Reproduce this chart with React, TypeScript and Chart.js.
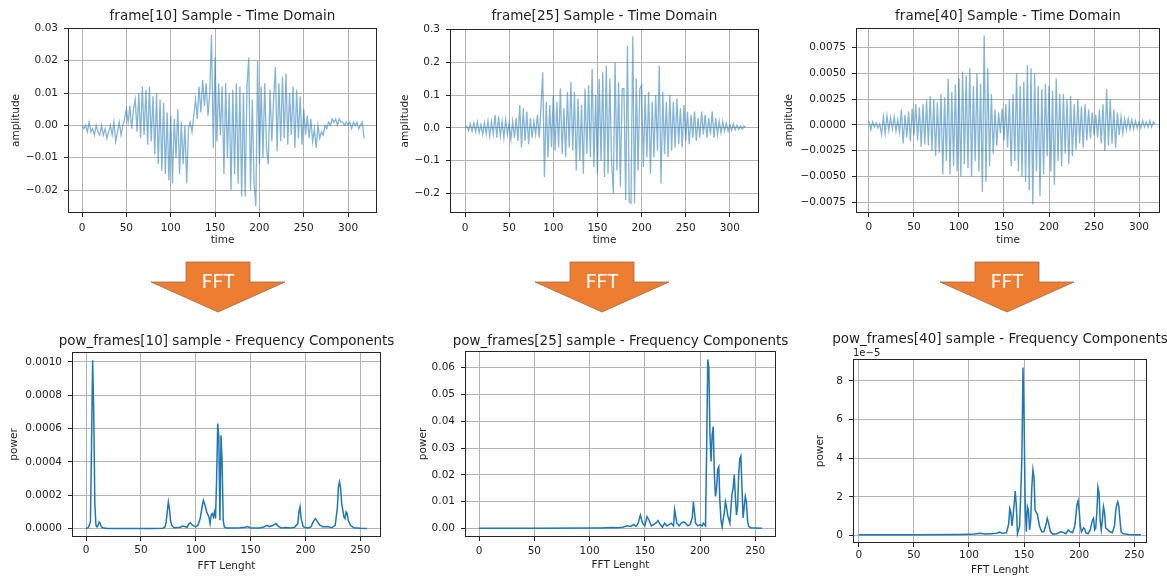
import React, { useEffect, useRef } from "react";
import { Chart, registerables } from "chart.js";

Chart.register(...registerables);

// ---------------- data ----------------
// sample index of the time-domain frames (every 2nd sample shown)
const sampleIndex: number[] = Array.from({ length: 160 }, (_, i) => i * 2);

const frame10: number[] = [
  0.000, -0.001, 0.000, -0.002, 0.001, -0.002, -0.001, -0.003, 0.000, -0.002,
  -0.003, 0.000, -0.003, -0.001, -0.004, -0.002, 0.000, -0.003, 0.001, -0.005,
  -0.002, 0.001, -0.003, 0.000, 0.002, 0.005, 0.001, 0.006, -0.001, 0.005,
  0.008, -0.002, 0.010, -0.004, 0.012, -0.003, 0.011, -0.006, 0.012, -0.005,
  0.009, -0.009, 0.010, -0.012, 0.008, -0.014, 0.007, -0.015, 0.004, -0.017,
  0.003, -0.018, 0.002, -0.010, 0.005, -0.015, 0.001, -0.012, 0.000, -0.018,
  -0.001, 0.001, -0.002, 0.003, 0.008, 0.002, 0.012, 0.004, 0.014, 0.006,
  0.013, 0.003, 0.010, 0.028, -0.007, 0.021, -0.005, 0.013, -0.003, 0.012,
  -0.015, 0.013, -0.010, 0.010, -0.020, 0.011, -0.015, 0.013, -0.018, 0.012,
  -0.022, 0.010, -0.022, 0.012, 0.021, -0.020, 0.008, -0.018, -0.025, 0.020,
  -0.012, 0.012, -0.010, 0.013, -0.007, -0.012, 0.011, -0.005, 0.008, 0.018,
  -0.008, 0.013, -0.005, 0.015, -0.004, 0.016, -0.006, 0.010, -0.003, 0.012,
  -0.007, 0.011, -0.004, 0.009, -0.006, 0.005, -0.003, 0.003, -0.004, 0.002,
  -0.005, -0.001, -0.007, 0.000, -0.004, -0.002, -0.003, 0.000, -0.001, 0.001,
  0.000, 0.002, 0.001, 0.002, 0.000, 0.002, 0.001, 0.001, 0.000, 0.001,
  0.000, 0.001, -0.001, 0.001, 0.000, 0.001, -0.001, 0.000, 0.001, -0.004,
];

const frame25: number[] = [
  0.000, 0.005, -0.008, 0.012, -0.010, 0.015, -0.012, 0.018, -0.015, 0.010,
  -0.020, 0.015, -0.018, 0.020, -0.025, 0.018, -0.020, 0.040, -0.030, 0.035,
  -0.025, 0.020, -0.030, 0.025, -0.020, 0.015, -0.035, 0.020, -0.030, 0.030,
  -0.040, 0.070, -0.060, 0.060, -0.040, 0.050, -0.050, 0.030, -0.030, 0.020,
  -0.020, 0.040, -0.030, 0.060, 0.170, -0.150, 0.080, -0.090, 0.070, -0.060,
  0.100, -0.070, 0.080, -0.060, 0.120, -0.080, 0.060, -0.090, 0.110, -0.060,
  0.140, -0.070, 0.110, -0.130, 0.090, -0.100, 0.070, -0.140, 0.120, -0.080,
  0.130, -0.090, 0.180, -0.120, 0.100, -0.140, 0.150, -0.100, 0.170, -0.150,
  0.190, -0.140, 0.150, -0.100, -0.200, 0.200, -0.130, 0.140, -0.180, 0.120,
  0.120, -0.220, 0.250, -0.225, -0.230, 0.280, -0.230, 0.150, -0.130, 0.120,
  0.130, -0.120, 0.100, -0.090, 0.110, -0.140, 0.080, -0.090, 0.100, -0.070,
  0.190, -0.170, 0.110, -0.080, 0.080, -0.090, 0.100, -0.070, 0.080, -0.060,
  0.090, -0.050, 0.060, -0.060, 0.070, -0.040, 0.050, -0.050, 0.040, -0.030,
  0.050, -0.040, 0.030, -0.030, 0.050, -0.020, 0.040, -0.030, 0.030, -0.020,
  0.050, -0.030, 0.030, -0.020, 0.020, -0.015, 0.020, -0.010, 0.015, -0.010,
  0.010, -0.008, 0.012, -0.006, 0.008, -0.005, 0.006, -0.004, 0.005, 0.002,
];

const frame40: number[] = [
  0.0004, -0.0005, 0.0003, -0.0002, 0.0002, -0.0003, 0.0001, -0.0009, 0.0008, -0.0008,
  0.0009, -0.0005, 0.0007, -0.0004, 0.0008, -0.0006, 0.0005, -0.0007, 0.0015, -0.0018,
  0.0010, -0.0012, 0.0013, -0.0016, 0.0016, -0.0010, 0.0020, -0.0015, 0.0017, -0.0021,
  0.0020, -0.0019, 0.0024, -0.0020, 0.0028, -0.0025, 0.0025, -0.0030, 0.0022, -0.0027,
  0.0030, -0.0048, 0.0027, -0.0035, 0.0045, -0.0048, 0.0032, -0.0040, 0.0039, -0.0045,
  0.0045, -0.0050, 0.0052, -0.0038, 0.0048, -0.0042, 0.0055, -0.0050, 0.0038, -0.0035,
  0.0050, -0.0045, 0.0040, -0.0065, 0.0087, -0.0055, 0.0055, -0.0040, 0.0030, -0.0028,
  0.0015, -0.0020, 0.0012, -0.0008, 0.0016, -0.0015, 0.0020, -0.0022, 0.0025, -0.0040,
  0.0030, -0.0035, 0.0050, -0.0045, 0.0038, -0.0050, 0.0042, -0.0055, 0.0058, -0.0063,
  0.0055, -0.0077, 0.0050, -0.0045, 0.0038, -0.0069, 0.0035, -0.0048, 0.0040, -0.0030,
  0.0038, -0.0045, 0.0033, -0.0058, 0.0045, -0.0035, 0.0030, -0.0040, 0.0030, -0.0028,
  0.0025, -0.0038, 0.0028, -0.0030, 0.0020, -0.0024, 0.0025, -0.0018, 0.0018, -0.0022,
  0.0020, -0.0015, 0.0015, -0.0013, 0.0012, -0.0010, 0.0010, -0.0012, 0.0015, -0.0018,
  0.0020, -0.0025, 0.0035, -0.0020, 0.0025, -0.0018, 0.0015, -0.0022, 0.0012, -0.0010,
  0.0008, -0.0008, 0.0006, -0.0005, 0.0006, -0.0004, 0.0005, -0.0004, 0.0004, -0.0003,
  0.0003, -0.0003, 0.0004, -0.0002, 0.0003, -0.0002, 0.0004, -0.0002, 0.0003, 0.0001,
];

const fftBins10: number[] = [
  0, 2, 4, 5, 6, 7, 8, 9, 10, 11, 12, 13, 14, 16, 20, 40, 60, 70, 72, 73, 74, 75, 76, 77, 78, 80,
  86, 88, 90, 92, 94, 95, 97, 100, 102, 104, 106, 107, 108, 110, 112, 113, 114, 115, 116, 117, 118,
  119, 120, 121, 122, 123, 124, 125, 126, 128, 135, 140, 145, 147, 150, 158, 162, 165, 167, 170,
  173, 175, 178, 182, 186, 190, 193, 194, 195, 196, 198, 202, 205, 207, 209, 211, 213, 216, 220,
  224, 227, 229, 230, 231, 232, 233, 235, 236, 237, 238, 239, 241, 244, 250, 256,
];
const powFrames10: number[] = [
  0.000002, 0.000005, 0.00004, 0.0005, 0.00101, 0.0007, 0.00015, 0.00002, 0.00001, 0.00002, 0.00004, 0.00003, 0.00001, 0.000003, 0.000001, 0.000001, 0.000001, 0.000002, 0.00001, 0.00004, 0.0001, 0.00016, 0.00012, 0.00005, 0.00002, 0.000005,
  0.000008, 0.000015, 0.000012, 0.000008, 0.00003, 0.000035, 0.00002, 0.00001, 0.00002, 0.00006, 0.00014, 0.00017, 0.00015, 0.0001, 0.00007, 0.00003, 0.00008, 0.00009, 0.00007, 0.0001, 0.00006,
  0.0003, 0.00063, 0.00055, 0.00005, 0.00056, 0.0004, 0.00005, 0.00001, 0.000004, 0.000003, 0.000005, 0.000008, 0.000012, 0.000004, 0.000003, 0.00001, 0.00002, 0.000012, 0.000018,
  0.00003, 0.000015, 0.000004, 0.000006, 0.000003, 0.000008, 0.00003, 0.0001, 0.00013, 0.00006, 0.00001, 0.000004, 0.00001, 0.00004, 0.00006, 0.00004, 0.00002, 0.00001, 0.000012,
  0.000005, 0.00002, 0.00012, 0.00025, 0.00028, 0.00024, 0.00015, 0.00007, 0.00006, 0.0001, 0.00009, 0.00005, 0.00002, 0.000005, 0.000002, 0.000001,
];

const fftBins25: number[] = [
  0, 50, 100, 110, 120, 125, 130, 134, 137, 140, 142, 144, 146, 148, 150, 152, 154, 156, 158, 160,
  162, 164, 166, 168, 170, 172, 174, 176, 177, 179, 181, 183, 185, 187, 189, 191, 193, 194, 196, 198,
  200, 202, 203, 205, 206, 207, 208, 209, 210, 211, 212, 213, 214, 215, 216, 217, 218, 219, 220, 222,
  223, 224, 225, 227, 229, 230, 231, 232, 233, 234, 235, 236, 237, 238, 239, 240, 241, 242, 243, 244,
  246, 250, 256,
];
const powFrames25: number[] = [
  0.0001, 0.0001, 0.0002, 0.0002, 0.0004, 0.0003, 0.0005, 0.001, 0.0008, 0.0015, 0.0008, 0.002, 0.005, 0.002, 0.001, 0.0045, 0.003, 0.001, 0.0015, 0.002,
  0.003, 0.0015, 0.0005, 0.002, 0.001, 0.0015, 0.002, 0.001, 0.007, 0.002, 0.001, 0.002, 0.0025, 0.002, 0.001, 0.0015, 0.004, 0.01, 0.002, 0.001,
  0.0015, 0.001, 0.002, 0.001, 0.03, 0.063, 0.06, 0.035, 0.025, 0.035, 0.038, 0.02, 0.012, 0.015, 0.022, 0.023, 0.01, 0.003, 0.0005, 0.006,
  0.01, 0.008, 0.005, 0.002, 0.013, 0.015, 0.02, 0.012, 0.005, 0.008, 0.02, 0.026, 0.027, 0.015, 0.004, 0.008, 0.012, 0.01, 0.003, 0.0008,
  0.0003, 0.0002, 0.0001,
];

const fftBins40: number[] = [
  0, 50, 90, 100, 105, 110, 115, 120, 125, 128, 130, 134, 136, 137, 138, 139, 140, 142, 143, 144,
  146, 148, 149, 150, 151, 152, 153, 154, 155, 156, 157, 158, 159, 160, 161, 162, 164, 166, 168, 170,
  171, 172, 174, 176, 180, 183, 185, 188, 190, 192, 194, 196, 198, 199, 200, 201, 202, 204, 205, 206,
  208, 210, 212, 213, 214, 215, 216, 217, 218, 219, 220, 221, 222, 223, 224, 226, 228, 230, 232, 233,
  234, 235, 236, 237, 238, 240, 245, 250, 256,
];
const powFrames40: number[] = [
  0.05e-5, 0.05e-5, 0.06e-5, 0.07e-5, 0.08e-5, 0.12e-5, 0.08e-5, 0.1e-5, 0.12e-5, 0.18e-5, 0.12e-5, 0.15e-5, 0.6e-5, 1.4e-5, 1.2e-5, 0.5e-5, 1.0e-5, 2.3e-5, 1.5e-5, 0.1e-5,
  0.5e-5, 4.0e-5, 8.7e-5, 6.0e-5, 1.5e-5, 0.2e-5, 1.5e-5, 1.3e-5, 0.3e-5, 0.8e-5, 2.5e-5, 3.4e-5, 3.0e-5, 1.3e-5, 1.2e-5, 1.1e-5, 0.5e-5, 0.2e-5, 0.2e-5, 0.6e-5,
  0.9e-5, 0.7e-5, 0.2e-5, 0.08e-5, 0.1e-5, 0.2e-5, 0.18e-5, 0.1e-5, 0.3e-5, 0.2e-5, 0.15e-5, 0.5e-5, 1.6e-5, 1.8e-5, 1.3e-5, 0.5e-5, 0.2e-5, 0.4e-5, 0.35e-5, 0.15e-5,
  0.1e-5, 0.3e-5, 0.8e-5, 0.9e-5, 0.3e-5, 0.4e-5, 1.2e-5, 2.5e-5, 2.2e-5, 0.8e-5, 0.3e-5, 0.8e-5, 1.5e-5, 1.2e-5, 0.4e-5, 0.3e-5, 0.2e-5, 0.15e-5, 0.5e-5, 1.2e-5,
  1.6e-5, 1.75e-5, 1.5e-5, 0.8e-5, 0.2e-5, 0.1e-5, 0.06e-5, 0.05e-5, 0.05e-5,
];

// tick values and labels
const timeTicks: number[] = [0, 50, 100, 150, 200, 250, 300];
const fftTicks: number[] = [0, 50, 100, 150, 200, 250];
const amp10Ticks: number[] = [-0.02, -0.01, 0, 0.01, 0.02, 0.03];
const amp10Labels: string[] = ["−0.02", "−0.01", "0.00", "0.01", "0.02", "0.03"];
const amp25Ticks: number[] = [-0.2, -0.1, 0, 0.1, 0.2, 0.3];
const amp25Labels: string[] = ["−0.2", "−0.1", "0.0", "0.1", "0.2", "0.3"];
const amp40Ticks: number[] = [-0.0075, -0.005, -0.0025, 0, 0.0025, 0.005, 0.0075];
const amp40Labels: string[] = ["−0.0075", "−0.0050", "−0.0025", "0.0000", "0.0025", "0.0050", "0.0075"];
const pow10Ticks: number[] = [0, 0.0002, 0.0004, 0.0006, 0.0008, 0.001];
const pow10Labels: string[] = ["0.0000", "0.0002", "0.0004", "0.0006", "0.0008", "0.0010"];
const pow25Ticks: number[] = [0, 0.01, 0.02, 0.03, 0.04, 0.05, 0.06];
const pow25Labels: string[] = ["0.00", "0.01", "0.02", "0.03", "0.04", "0.05", "0.06"];
const pow40Ticks: number[] = [0, 2e-5, 4e-5, 6e-5, 8e-5];
const pow40Labels: string[] = ["0", "2", "4", "6", "8"];

// ---------------- styling ----------------
const FONT = "'DejaVu Sans', sans-serif";
const TEXT = "#1f1f1f";
const GRID = "#b3b3b3";
const TIME_COLOR = "rgba(31,119,180,0.55)";
const FFT_COLOR = "#1f77b4";
const TITLE_SIZE = 13.5;
const TITLE_LH = TITLE_SIZE * 1.2;
const TICK_SIZE = 10.5;
const TICK_LH = TICK_SIZE * 1.2;

type Box = {
  L: number; T: number; R: number; B: number;
  titleY: number; subY?: number; yTitleX: number; xTitleY: number; xTickPad: number;
};

type PlotSpec = {
  title: string;
  subtitle?: string;
  xLabel: string;
  yLabel: string;
  xs: number[];
  ys: number[];
  xTicks: number[];
  yTicks: number[];
  yTickLabels: string[];
  xMin: number; xMax: number; yMin: number; yMax: number;
  color: string;
  lineWidth: number;
  box: Box;
};

const framePlugin = {
  id: "axesFrame",
  afterDatasetsDraw(chart: any) {
    const { ctx, chartArea } = chart;
    const l = Math.round(chartArea.left) + 0.5;
    const t = Math.round(chartArea.top) + 0.5;
    const r = Math.round(chartArea.right) - 0.5;
    const b = Math.round(chartArea.bottom) - 0.5;
    ctx.save();
    ctx.strokeStyle = "#262626";
    ctx.lineWidth = 1;
    ctx.strokeRect(l, t, r - l, b - t);
    ctx.restore();
  },
};

function geometry(b: Box, hasSub: boolean) {
  const left = Math.round(b.yTitleX - TICK_LH / 2 - 4);
  const yW = b.L - left;
  const width = Math.round(b.R - b.L + 2 * yW);
  const rightW = width - (b.R - b.L) - yW;
  const top = Math.round(b.titleY - 2 - TITLE_LH / 2);
  const titlePadTop = b.titleY - TITLE_LH / 2 - top;
  const bottom = Math.round(b.xTitleY + TICK_LH / 2 + 2);
  const height = bottom - top;
  const xH = bottom - b.B;
  const titleEnd = top + titlePadTop + TITLE_LH;
  let titlePadBottom = 0;
  let subPadBottom = 0;
  if (hasSub && b.subY !== undefined) {
    titlePadBottom = Math.max(0, b.subY - 6 - titleEnd);
    subPadBottom = Math.max(0, b.T - (titleEnd + titlePadBottom + 12));
  } else {
    titlePadBottom = Math.max(0, b.T - titleEnd);
  }
  return { left, top, width, height, yW, xH, rightW, titlePadTop, titlePadBottom, subPadBottom };
}

function Plot({ spec }: { spec: PlotSpec }) {
  const ref = useRef<HTMLCanvasElement>(null);
  const g = geometry(spec.box, !!spec.subtitle);

  useEffect(() => {
    const tickFont = { family: FONT, size: TICK_SIZE };
    const chart = new Chart(ref.current as HTMLCanvasElement, {
      type: "line",
      data: {
        datasets: [
          {
            data: spec.xs.map((x, i) => ({ x, y: spec.ys[i] })),
            borderColor: spec.color,
            borderWidth: spec.lineWidth,
            pointRadius: 0,
            fill: false,
            tension: 0,
            xAxisID: "x",
            yAxisID: "y",
          },
        ],
      },
      options: {
        responsive: false,
        animation: false,
        devicePixelRatio: 1,
        events: [],
        layout: { padding: 0 },
        plugins: {
          legend: { display: false },
          tooltip: { enabled: false },
          title: {
            display: true,
            text: spec.title,
            color: TEXT,
            font: { family: FONT, size: TITLE_SIZE, weight: "normal" },
            padding: { top: g.titlePadTop, bottom: g.titlePadBottom },
          },
          subtitle: {
            display: !!spec.subtitle,
            text: spec.subtitle || "",
            align: "start",
            fullSize: false,
            color: TEXT,
            font: { family: FONT, size: 10, weight: "normal" },
            padding: { top: 0, bottom: g.subPadBottom },
          },
        },
        scales: {
          x: {
            type: "linear",
            min: spec.xMin,
            max: spec.xMax,
            afterBuildTicks: (s: any) => {
              s.ticks = spec.xTicks.map((v) => ({ value: v }));
            },
            afterFit: (s: any) => {
              s.height = g.xH;
            },
            ticks: {
              font: tickFont,
              color: TEXT,
              padding: spec.box.xTickPad,
              maxRotation: 0,
              autoSkip: false,
              callback: (v: any) => String(v),
            },
            grid: { color: GRID, lineWidth: 1, tickColor: "#262626", tickLength: 4, drawTicks: true },
            border: { display: false },
            title: {
              display: true,
              text: spec.xLabel,
              color: TEXT,
              font: tickFont,
              padding: { top: 0, bottom: 2 },
            },
          },
          y: {
            type: "linear",
            position: "left",
            min: spec.yMin,
            max: spec.yMax,
            afterBuildTicks: (s: any) => {
              s.ticks = spec.yTicks.map((v) => ({ value: v }));
            },
            afterFit: (s: any) => {
              s.width = g.yW;
            },
            ticks: {
              font: tickFont,
              color: TEXT,
              padding: 6,
              autoSkip: false,
              callback: (_v: any, i: number) => spec.yTickLabels[i],
            },
            grid: { color: GRID, lineWidth: 1, tickColor: "#262626", tickLength: 4, drawTicks: true },
            border: { display: false },
            title: {
              display: true,
              text: spec.yLabel,
              color: TEXT,
              font: tickFont,
              padding: { top: 4, bottom: 4 },
            },
          },
          // empty spacer on the right so that the title is centred over the axes
          spacer: {
            type: "linear",
            position: "right",
            min: 0,
            max: 1,
            afterFit: (s: any) => {
              s.width = g.rightW;
            },
            ticks: { display: false },
            grid: { display: false, drawTicks: false },
            border: { display: false },
            title: { display: false },
          },
        },
      } as any,
      plugins: [framePlugin],
    });
    return () => chart.destroy();
  }, []);

  return (
    <canvas
      ref={ref}
      width={g.width}
      height={g.height}
      style={{ position: "absolute", left: g.left, top: g.top, width: g.width, height: g.height }}
    />
  );
}

const specs: PlotSpec[] = [
  {
    title: "frame[10] Sample - Time Domain", xLabel: "time", yLabel: "amplitude",
    xs: sampleIndex, ys: frame10, xTicks: timeTicks, yTicks: amp10Ticks, yTickLabels: amp10Labels,
    xMin: -15.8, xMax: 332.6, yMin: -0.0271, yMax: 0.0301, color: TIME_COLOR, lineWidth: 1.3,
    box: { L: 68, T: 28, R: 377, B: 213, titleY: 16.5, yTitleX: 16, xTitleY: 241, xTickPad: 5 },
  },
  {
    title: "frame[25] Sample - Time Domain", xLabel: "time", yLabel: "amplitude",
    xs: sampleIndex, ys: frame25, xTicks: timeTicks, yTicks: amp25Ticks, yTickLabels: amp25Labels,
    xMin: -17, xMax: 333, yMin: -0.26, yMax: 0.302, color: TIME_COLOR, lineWidth: 1.3,
    box: { L: 450, T: 29, R: 759, B: 213, titleY: 16.7, yTitleX: 405, xTitleY: 241, xTickPad: 5 },
  },
  {
    title: "frame[40] Sample - Time Domain", xLabel: "time", yLabel: "amplitude",
    xs: sampleIndex, ys: frame40, xTicks: timeTicks, yTicks: amp40Ticks, yTickLabels: amp40Labels,
    xMin: -14.4, xMax: 323.3, yMin: -0.00854, yMax: 0.00941, color: TIME_COLOR, lineWidth: 1.3,
    box: { L: 856, T: 28, R: 1160, B: 213, titleY: 16.7, yTitleX: 789, xTitleY: 241, xTickPad: 4 },
  },
  {
    title: "pow_frames[10] sample - Frequency Components", xLabel: "FFT Lenght", yLabel: "power",
    xs: fftBins10, ys: powFrames10, xTicks: fftTicks, yTicks: pow10Ticks, yTickLabels: pow10Labels,
    xMin: -12.8, xMax: 268.8, yMin: -0.0000505, yMax: 0.00106, color: FFT_COLOR, lineWidth: 1.5,
    box: { L: 72, T: 352, R: 381, B: 537, titleY: 341.7, yTitleX: 14, xTitleY: 566.5, xTickPad: 3 },
  },
  {
    title: "pow_frames[25] sample - Frequency Components", xLabel: "FFT Lenght", yLabel: "power",
    xs: fftBins25, ys: powFrames25, xTicks: fftTicks, yTicks: pow25Ticks, yTickLabels: pow25Labels,
    xMin: -12.8, xMax: 268.8, yMin: -0.00315, yMax: 0.06615, color: FFT_COLOR, lineWidth: 1.5,
    box: { L: 465, T: 351, R: 776, B: 537, titleY: 341.7, yTitleX: 423, xTitleY: 566, xTickPad: 4 },
  },
  {
    title: "pow_frames[40] sample - Frequency Components", subtitle: "1e−5", xLabel: "FFT Lenght", yLabel: "power",
    xs: fftBins40, ys: powFrames40, xTicks: fftTicks, yTicks: pow40Ticks, yTickLabels: pow40Labels,
    xMin: -5.2, xMax: 261.5, yMin: -0.38e-5, yMax: 9.13e-5, color: FFT_COLOR, lineWidth: 1.5,
    box: { L: 853, T: 359, R: 1147, B: 543, titleY: 339, subY: 352, yTitleX: 820, xTitleY: 570.5, xTickPad: 2 },
  },
];

const arrowCenters: number[] = [218, 602, 1007];

function Arrows() {
  return (
    <svg
      width={1167}
      height={582}
      style={{ position: "absolute", left: 0, top: 0, pointerEvents: "none" }}
    >
      {arrowCenters.map((cx) => {
        const pts = [
          [cx - 32, 262], [cx + 32, 262], [cx + 32, 282], [cx + 67, 282],
          [cx, 312], [cx - 67, 282], [cx - 32, 282],
        ].map((p) => p.join(",")).join(" ");
        return (
          <g key={cx}>
            <polygon points={pts} fill="#ED7D31" stroke="#9b6a4f" strokeWidth={0.8} />
            <text
              x={cx}
              y={280}
              fill="#ffffff"
              fontFamily="Lato, 'Open Sans', sans-serif"
              fontSize={19}
              textAnchor="middle"
              dominantBaseline="central"
            >
              FFT
            </text>
          </g>
        );
      })}
    </svg>
  );
}

export default function App() {
  return (
    <div
      style={{
        position: "absolute",
        left: 0,
        top: 0,
        width: 1167,
        height: 582,
        overflow: "hidden",
        background: "#ffffff",
      }}
    >
      {specs.map((s, i) => (
        <Plot key={i} spec={s} />
      ))}
      <Arrows />
    </div>
  );
}
